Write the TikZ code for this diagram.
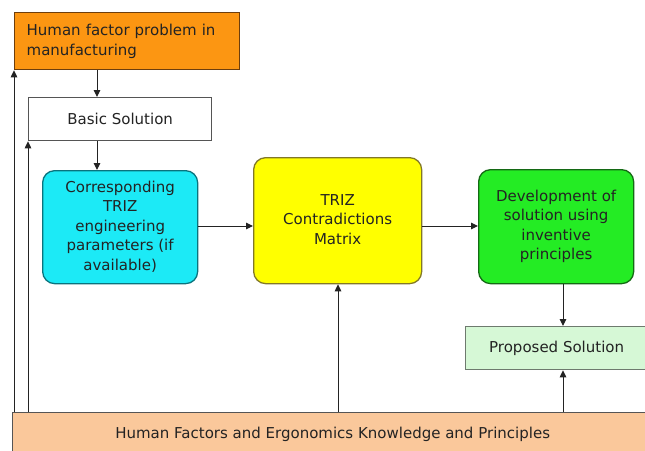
\documentclass[tikz,border=0pt]{standalone}
\usepackage{fontspec}
\setmainfont{DejaVu Sans}
\usetikzlibrary{arrows.meta}
\definecolor{orangebox}{RGB}{252,150,18}
\definecolor{orangeedge}{RGB}{110,62,12}
\definecolor{cyanbox}{RGB}{28,234,246}
\definecolor{cyanedge}{RGB}{10,115,125}
\definecolor{yellowbox}{RGB}{255,255,0}
\definecolor{yellowedge}{RGB}{130,120,40}
\definecolor{greenbox}{RGB}{36,236,36}
\definecolor{greenedge}{RGB}{20,105,20}
\definecolor{palegreen}{RGB}{214,248,214}
\definecolor{paleedge}{RGB}{110,122,110}
\definecolor{peach}{RGB}{250,200,155}
\definecolor{edge}{RGB}{85,85,85}
\definecolor{ink}{RGB}{35,35,35}
% centred block of lines, lifted by #1
\newcommand{\liftedlines}[2]{\raisebox{#1}{\begin{tabular}{@{}c@{}}#2\end{tabular}}}
\begin{document}
\begin{tikzpicture}[x=1pt,y=-1pt,
  box/.style={draw=edge,line width=1.3pt,text=ink,font=\fontsize{15}{19.5}\selectfont,align=center,inner sep=0pt},
  rbox/.style={box,rounded corners=12pt},
  flow/.style={draw=ink,line width=1pt,-{Triangle[length=7pt,width=6.5pt]}}]
\useasboundingbox (0,0) rectangle (645,450);
% boxes, given by corners in a top-down frame
\node[box,draw=orangeedge,fill=orangebox,minimum width=225pt,minimum height=57pt,align=left,anchor=north west,text width=201pt] (prob) at (14,12)
  {Human factor problem in\\manufacturing};
\node[box,fill=white,minimum width=183pt,minimum height=43pt,anchor=north west] (basic) at (28,97) {Basic Solution};
\node[rbox,draw=cyanedge,fill=cyanbox,minimum width=155pt,minimum height=113pt,anchor=north west] (param) at (42,170)
  {\liftedlines{1pt}{Corresponding\\TRIZ\\engineering\\parameters (if\\available)}};
\node[rbox,draw=yellowedge,fill=yellowbox,minimum width=168pt,minimum height=126pt,anchor=north west] (matrix) at (253,157)
  {\liftedlines{4pt}{TRIZ\\Contradictions\\Matrix}};
\node[rbox,draw=greenedge,fill=greenbox,minimum width=155pt,minimum height=114pt,anchor=north west] (dev) at (478,169)
  {\liftedlines{6pt}{Development of\\solution using\\inventive\\principles}};
\node[box,draw=paleedge,fill=palegreen,minimum width=182pt,minimum height=43pt,anchor=north west] (prop) at (465,326) {Proposed Solution};
\node[box,fill=peach,minimum width=640pt,minimum height=45pt,anchor=north west] (hf) at (12,412)
  {\raisebox{5pt}{Human Factors and Ergonomics Knowledge and Principles}};
% connectors
\coordinate (hfa) at (14,412);
\coordinate (hfb) at (28,412);
\draw[flow] (prob.south -| 97,0) -- (basic.north -| 97,0);
\draw[flow] (basic.south -| 97,0) -- (param.north -| 97,0);
\draw[flow] (param.east |- 0,226) -- (matrix.west |- 0,226);
\draw[flow] (matrix.east |- 0,226) -- (dev.west |- 0,226);
\draw[flow] (dev.south -| 563,0) -- (prop.north -| 563,0);
\draw[flow] (hf.north -| 563,0) -- (prop.south -| 563,0);
\draw[flow] (hf.north -| 338,0) -- (matrix.south -| 338,0);
\draw[flow] (hfa) -- (prob.south west);
\draw[flow] (hfb) -- (basic.south west);
\end{tikzpicture}
\end{document}
